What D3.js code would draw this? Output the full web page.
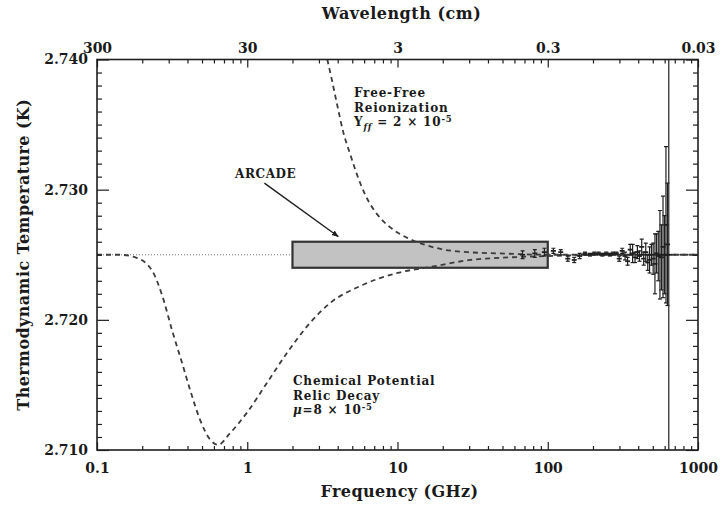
<!DOCTYPE html>
<html>
<head>
<meta charset="utf-8">
<script src="https://cdn.jsdelivr.net/npm/d3@7/dist/d3.min.js"></script>
<style>
  html, body { margin: 0; padding: 0; background: #fff; }
  svg text { font-family: "DejaVu Serif", serif; font-weight: bold; fill: #1a1a1a; }
</style>
</head>
<body>
<svg id="chart" width="721" height="509"></svg>
<script>
// ---------- data ----------
const freqMajorTicks = [0.1, 1, 10, 100, 1000];
const freqTickLabels = ["0.1", "1", "10", "100", "1000"];
const wavelengthTickLabels = ["300", "30", "3", "0.3", "0.03"];
const tempMajorTicks = [2.710, 2.720, 2.730, 2.740];
const tempTickLabels = ["2.710", "2.720", "2.730", "2.740"];

// CMB reference temperature (dotted line)
const cmbTemp = 2.725;

// ARCADE band
const arcadeFreqRange = [2, 100];
const arcadeTempRange = [2.724, 2.726];

// Chemical potential distortion curve
const chemFreq = [0.10, 0.14, 0.18, 0.232, 0.271, 0.316, 0.368, 0.417, 0.486, 0.566, 0.64, 0.769, 1.0, 1.36, 1.85, 2.5, 3.57, 5.65, 10, 17.3, 30.5, 56.4, 100, 300, 1000];
const chemTemp = [2.7250, 2.7250, 2.7248, 2.7238, 2.7219, 2.7192, 2.7167, 2.7146, 2.7123, 2.7108, 2.7104, 2.7113, 2.7129, 2.7152, 2.7175, 2.7195, 2.7213, 2.7226, 2.7236, 2.7241, 2.7246, 2.7248, 2.7249, 2.7250, 2.7250];

// Free-free reionization curve
const ffFreq = [3.41, 3.68, 3.97, 4.36, 4.85, 5.40, 6.10, 7.33, 8.96, 11.6, 14.9, 20.2, 29.2, 48.4, 100, 300, 1000];
const ffTemp = [2.7400, 2.7383, 2.7365, 2.7344, 2.7327, 2.7311, 2.7296, 2.7281, 2.7271, 2.7263, 2.7258, 2.7254, 2.7252, 2.7251, 2.7250, 2.7250, 2.7250];

// FIRAS-like measurements (GHz, K, K)
const firasFreq = [68, 82, 95, 109, 122, 136, 150, 163, 177, 191, 204, 218, 231, 245, 259, 272, 286, 299, 313, 327, 340, 354, 367, 381, 395, 408, 422, 435, 449, 463, 476, 490, 503, 517, 530, 544, 558, 571, 585, 599, 612, 626, 639];
const firasTemp = [2.7250, 2.7251, 2.7252, 2.7253, 2.7252, 2.7247, 2.7246, 2.7249, 2.7251, 2.7250, 2.7251, 2.7251, 2.7250, 2.7251, 2.7250, 2.7251, 2.7251, 2.7247, 2.7253, 2.7249, 2.7245, 2.7254, 2.7251, 2.7248, 2.7252, 2.7249, 2.7256, 2.7247, 2.7252, 2.7244, 2.7246, 2.7250, 2.7247, 2.7243, 2.7251, 2.7249, 2.7250, 2.7248, 2.7256, 2.7250, 2.7273, 2.7258, 2.7250];
const firasErr = [0.0003, 0.0003, 0.0003, 0.0002, 0.0002, 0.0002, 0.0002, 0.0002, 0.0001, 0.0001, 0.0001, 0.0001, 0.0001, 0.0001, 0.0001, 0.0001, 0.0001, 0.0002, 0.0002, 0.0003, 0.0003, 0.0004, 0.0007, 0.0004, 0.0005, 0.0004, 0.0006, 0.0005, 0.0007, 0.0006, 0.0010, 0.0008, 0.0012, 0.0023, 0.0015, 0.0019, 0.0034, 0.0025, 0.0039, 0.0030, 0.0060, 0.0047, 0.0400];

// ---------- layout ----------
const svg = d3.select("#chart");
const L = 97, R = 698, T = 59.5, B = 450;
const x = d3.scaleLog().domain([0.1, 1000]).range([L, R]);
const y = d3.scaleLinear().domain([2.710, 2.740]).range([B, T]);
const ink = "#1f1f1f";

svg.append("rect").attr("width", 721).attr("height", 509).attr("fill", "#fff");

const defs = svg.append("defs");
defs.append("clipPath").attr("id", "plot")
  .append("rect").attr("x", L).attr("y", T).attr("width", R - L).attr("height", B - T);
defs.append("marker").attr("id", "arrow").attr("viewBox", "0 0 10 10")
  .attr("refX", 9).attr("refY", 5).attr("markerWidth", 7).attr("markerHeight", 7)
  .attr("markerUnits", "userSpaceOnUse").attr("orient", "auto")
  .append("path").attr("d", "M0,1 L10,5 L0,9 Z").attr("fill", ink);

const plot = svg.append("g").attr("clip-path", "url(#plot)");

// dotted CMB line
plot.append("line")
  .attr("x1", x(0.1)).attr("x2", x(1000))
  .attr("y1", y(cmbTemp)).attr("y2", y(cmbTemp))
  .attr("stroke", "#777").attr("stroke-width", 1).attr("stroke-dasharray", "1,2");

// ARCADE box
plot.append("rect")
  .attr("x", x(arcadeFreqRange[0])).attr("y", y(arcadeTempRange[1]))
  .attr("width", x(arcadeFreqRange[1]) - x(arcadeFreqRange[0]))
  .attr("height", y(arcadeTempRange[0]) - y(arcadeTempRange[1]))
  .attr("fill", "#c2c2c2").attr("stroke", "#333").attr("stroke-width", 2.2);

// curves
const line = d3.line().x(d => x(d[0])).y(d => y(d[1])).curve(d3.curveMonotoneX);
plot.append("path").datum(chemFreq.map((f, i) => [f, chemTemp[i]]))
  .attr("d", line).attr("fill", "none").attr("stroke", "#3c3c3c")
  .attr("stroke-width", 1.8).attr("stroke-dasharray", "5,4");
plot.append("path").datum(ffFreq.map((f, i) => [f, ffTemp[i]]))
  .attr("d", line).attr("fill", "none").attr("stroke", "#3c3c3c")
  .attr("stroke-width", 1.8).attr("stroke-dasharray", "5,4");

// data points with error bars
const pts = firasFreq.map((f, i) => ({ f, t: firasTemp[i], e: firasErr[i] }));
const g = plot.append("g").attr("stroke", ink).attr("stroke-width", 1.2);
g.selectAll(".eb").data(pts).enter().append("line")
  .attr("x1", d => x(d.f)).attr("x2", d => x(d.f))
  .attr("y1", d => y(d.t - d.e)).attr("y2", d => y(d.t + d.e));
g.selectAll(".capT").data(pts).enter().append("line")
  .attr("x1", d => x(d.f) - 2).attr("x2", d => x(d.f) + 2)
  .attr("y1", d => y(d.t + d.e)).attr("y2", d => y(d.t + d.e));
g.selectAll(".capB").data(pts).enter().append("line")
  .attr("x1", d => x(d.f) - 2).attr("x2", d => x(d.f) + 2)
  .attr("y1", d => y(d.t - d.e)).attr("y2", d => y(d.t - d.e));
g.selectAll(".pt").data(pts).enter().append("line")
  .attr("x1", d => x(d.f) - 2.5).attr("x2", d => x(d.f) + 2.5)
  .attr("y1", d => y(d.t)).attr("y2", d => y(d.t)).attr("stroke-width", 1.7);

// ---------- axes ----------
const minorFreq = [];
[0.1, 1, 10, 100].forEach(dec => { for (let k = 2; k <= 9; k++) minorFreq.push(dec * k); });
const minorTemp = [];
for (let k = 711; k < 740; k++) if (k % 10 !== 0) minorTemp.push(2 + k / 1000);

function styleAxis(sel) {
  sel.select(".domain").remove();
  sel.selectAll("line").attr("stroke", ink).attr("stroke-width", 1.2);
  sel.selectAll("text").attr("font-size", 14).attr("fill", "#1a1a1a")
    .attr("font-family", "DejaVu Serif").attr("font-weight", "bold");
}

svg.append("g").attr("transform", `translate(0,${B})`)
  .call(d3.axisBottom(x).tickValues(freqMajorTicks).tickSize(-8).tickPadding(13)
    .tickFormat((d, i) => freqTickLabels[i])).call(styleAxis);
svg.append("g").attr("transform", `translate(0,${B})`)
  .call(d3.axisBottom(x).tickValues(minorFreq).tickSize(-4).tickFormat("")).call(styleAxis);
svg.append("g").attr("transform", `translate(0,${T})`)
  .call(d3.axisTop(x).tickValues(freqMajorTicks).tickSize(-8).tickPadding(7)
    .tickFormat((d, i) => wavelengthTickLabels[i])).call(styleAxis);
svg.append("g").attr("transform", `translate(0,${T})`)
  .call(d3.axisTop(x).tickValues(minorFreq).tickSize(-4).tickFormat("")).call(styleAxis);

svg.append("g").attr("transform", `translate(${L},0)`)
  .call(d3.axisLeft(y).tickValues(tempMajorTicks).tickSize(-12).tickPadding(9)
    .tickFormat((d, i) => tempTickLabels[i])).call(styleAxis);
svg.append("g").attr("transform", `translate(${L},0)`)
  .call(d3.axisLeft(y).tickValues(minorTemp).tickSize(-5).tickFormat("")).call(styleAxis);
svg.append("g").attr("transform", `translate(${R},0)`)
  .call(d3.axisRight(y).tickValues(tempMajorTicks).tickSize(-12).tickFormat("")).call(styleAxis);
svg.append("g").attr("transform", `translate(${R},0)`)
  .call(d3.axisRight(y).tickValues(minorTemp).tickSize(-5).tickFormat("")).call(styleAxis);

// frame
svg.append("rect").attr("x", L).attr("y", T).attr("width", R - L).attr("height", B - T)
  .attr("fill", "none").attr("stroke", ink).attr("stroke-width", 1.6);

// axis titles
svg.append("text").attr("x", (L + R) / 2 + 4).attr("y", 19).attr("text-anchor", "middle")
  .attr("font-size", 16).attr("letter-spacing", 0.5).text("Wavelength (cm)");
svg.append("text").attr("x", (L + R) / 2 + 2).attr("y", 497).attr("text-anchor", "middle")
  .attr("font-size", 16).attr("letter-spacing", 0.4).text("Frequency (GHz)");
svg.append("text").attr("transform", `translate(29,${(T + B) / 2}) rotate(-90)`)
  .attr("text-anchor", "middle").attr("font-size", 16).attr("letter-spacing", 0.4)
  .text("Thermodynamic Temperature (K)");

// annotations
const ann = svg.append("g").attr("font-size", 12).attr("letter-spacing", 0.8);
ann.append("text").attr("x", 354).attr("y", 97).text("Free-Free");
ann.append("text").attr("x", 354).attr("y", 111.5).text("Reionization");
const yff = ann.append("text").attr("x", 354).attr("y", 126);
yff.append("tspan").text("Y");
yff.append("tspan").attr("font-size", 8.5).attr("font-style", "italic").attr("dy", 4).text("ff");
yff.append("tspan").attr("dy", -4).text(" = 2 \u00d7 10");
yff.append("tspan").attr("font-size", 8.5).attr("dy", -4).text("-5");

ann.append("text").attr("x", 293).attr("y", 385).text("Chemical Potential");
ann.append("text").attr("x", 293).attr("y", 399.5).text("Relic Decay");
const mu = ann.append("text").attr("x", 293).attr("y", 414);
mu.append("tspan").attr("font-style", "italic").text("\u03bc");
mu.append("tspan").text("=8 \u00d7 10");
mu.append("tspan").attr("font-size", 8.5).attr("dy", -4).text("-5");

svg.append("text").attr("x", 235).attr("y", 178).attr("font-size", 12)
  .attr("letter-spacing", 0.6).text("ARCADE");
svg.append("line")
  .attr("x1", x(1.30)).attr("y1", y(2.7305))
  .attr("x2", x(4.03)).attr("y2", y(2.7264))
  .attr("stroke", ink).attr("stroke-width", 1.4).attr("marker-end", "url(#arrow)");
</script>
</body>
</html>
